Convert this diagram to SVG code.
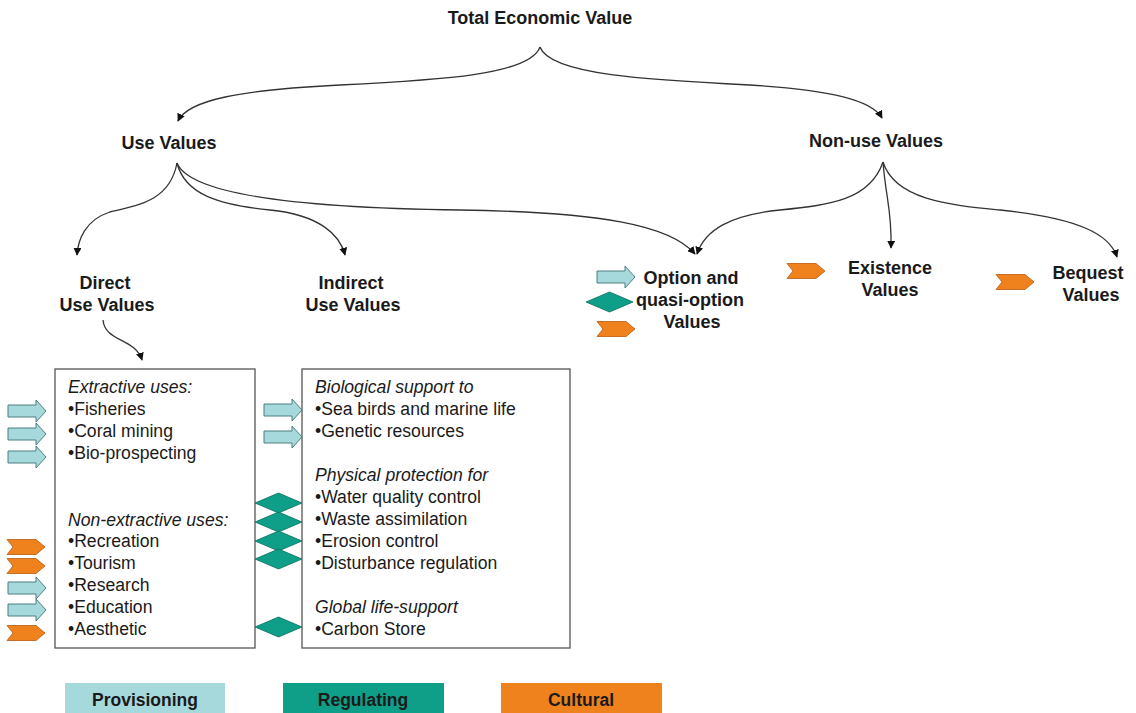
<svg xmlns="http://www.w3.org/2000/svg" xmlns:xlink="http://www.w3.org/1999/xlink" width="1136" height="713" viewBox="0 0 1136 713">
<style>
  .h{font-family:"Liberation Sans",Arial,sans-serif;font-weight:bold;font-size:18px;fill:#1a1a1a;text-anchor:middle}
  .t{font-family:"Liberation Sans",Arial,sans-serif;font-size:17.6px;fill:#1a1a1a}
  .i{font-style:italic}
  .box{fill:#fff;stroke:#555;stroke-width:1.3}
  .conn{fill:none;stroke:#333;stroke-width:1.3;marker-end:url(#ah)}
  .lg{font-family:"Liberation Sans",Arial,sans-serif;font-weight:bold;font-size:17.5px;fill:#1a1a1a;text-anchor:middle}
</style>
<defs>
  <marker id="ah" viewBox="0 0 10 10" refX="9" refY="5" markerWidth="8" markerHeight="8" markerUnits="userSpaceOnUse" orient="auto">
    <path d="M0,0 L10,5 L0,10 Z" fill="#111"/>
  </marker>
  <path id="prov" d="M0,-6 L28,-6 L28,-11 L38,0 L28,11 L28,6 L0,6 Z" fill="#a6d9dc" stroke="#4d7f80" stroke-width="1"/>
  <path id="cult" d="M0,-7.5 L29,-7.5 L38,0 L29,7.5 L0,7.5 L6,0 Z" fill="#f0821e" stroke="#b85a10" stroke-width="0.8"/>
  <path id="reg" d="M0,0 L23.5,-10 L47,0 L23.5,10 Z" fill="#0f9e88" stroke="#0a6f60" stroke-width="0.8"/>
</defs>

<g id="connectors">
  <path class="conn" d="M540,47 C530,75 440,80 340,85 C240,90 188,100 178,121"/>
  <path class="conn" d="M540,47 C550,75 650,80 750,85 C830,90 872,100 882,118"/>
  <path class="conn" d="M177,163 C170,200 140,205 110,212 C85,220 78,240 77,255"/>
  <path class="conn" d="M177,163 C185,195 220,205 270,210 C320,215 340,235 345,255"/>
  <path class="conn" d="M177,163 C190,195 300,208 460,210 C600,212 670,225 695,254"/>
  <path class="conn" d="M883,162 C870,200 830,205 780,210 C730,215 705,230 697,254"/>
  <path class="conn" d="M883,162 C886,200 892,210 891,248"/>
  <path class="conn" d="M883,162 C895,200 950,205 1000,210 C1080,218 1110,235 1117,257"/>
  <path class="conn" d="M103,320 C105,342 135,338 142,360"/>
</g>

<g id="tev"><text class="h" x="540" y="24">Total Economic Value</text></g>
<g id="use"><text class="h" x="169" y="149">Use Values</text></g>
<g id="nonuse"><text class="h" x="876" y="147">Non-use Values</text></g>
<g id="direct"><text class="h" x="105" y="289">Direct</text><text class="h" x="107" y="311">Use Values</text></g>
<g id="indirect"><text class="h" x="351" y="289">Indirect</text><text class="h" x="353" y="311">Use Values</text></g>
<g id="option">
  <text class="h" x="691" y="284">Option and</text>
  <text class="h" x="690" y="306">quasi-option</text>
  <text class="h" x="692" y="328">Values</text>
  <use xlink:href="#prov" x="597" y="277"/>
  <use xlink:href="#reg" x="586" y="302"/>
  <use xlink:href="#cult" x="597" y="329"/>
</g>
<g id="existence">
  <text class="h" x="890" y="274">Existence</text>
  <text class="h" x="890" y="296">Values</text>
  <use xlink:href="#cult" x="787" y="271"/>
</g>
<g id="bequest">
  <text class="h" x="1088" y="279">Bequest</text>
  <text class="h" x="1091" y="301">Values</text>
  <use xlink:href="#cult" x="996" y="282"/>
</g>

<g id="direct-box">
  <rect class="box" x="55" y="369" width="200" height="279"/>
  <text class="t i" x="68" y="393">Extractive uses:</text>
  <text class="t" x="68" y="415">•Fisheries</text>
  <text class="t" x="68" y="437">•Coral mining</text>
  <text class="t" x="68" y="459">•Bio-prospecting</text>
  <text class="t i" x="68" y="526">Non-extractive uses:</text>
  <text class="t" x="68" y="547">•Recreation</text>
  <text class="t" x="68" y="569">•Tourism</text>
  <text class="t" x="68" y="591">•Research</text>
  <text class="t" x="68" y="613">•Education</text>
  <text class="t" x="68" y="635">•Aesthetic</text>
  <use xlink:href="#prov" x="8" y="411"/>
  <use xlink:href="#prov" x="8" y="434"/>
  <use xlink:href="#prov" x="8" y="457"/>
  <use xlink:href="#cult" x="7" y="547"/>
  <use xlink:href="#cult" x="7" y="566"/>
  <use xlink:href="#prov" x="8" y="588"/>
  <use xlink:href="#prov" x="8" y="610"/>
  <use xlink:href="#cult" x="7" y="633"/>
</g>

<g id="indirect-box">
  <rect class="box" x="302" y="369" width="268" height="279"/>
  <text class="t i" x="315" y="393">Biological support to</text>
  <text class="t" x="315" y="415">•Sea birds and marine life</text>
  <text class="t" x="315" y="437">•Genetic resources</text>
  <text class="t i" x="315" y="481">Physical protection for</text>
  <text class="t" x="315" y="503">•Water quality control</text>
  <text class="t" x="315" y="525">•Waste assimilation</text>
  <text class="t" x="315" y="547">•Erosion control</text>
  <text class="t" x="315" y="569">•Disturbance regulation</text>
  <text class="t i" x="315" y="613">Global life-support</text>
  <text class="t" x="315" y="635">•Carbon Store</text>
  <use xlink:href="#prov" x="264" y="410"/>
  <use xlink:href="#prov" x="264" y="437"/>
  <use xlink:href="#reg" x="255" y="503"/>
  <use xlink:href="#reg" x="255" y="522"/>
  <use xlink:href="#reg" x="255" y="541"/>
  <use xlink:href="#reg" x="255" y="559"/>
  <use xlink:href="#reg" x="255" y="627"/>
</g>

<g id="legend">
  <rect x="65" y="683" width="160" height="32" fill="#a6d9dc"/>
  <text class="lg" x="145" y="706">Provisioning</text>
  <rect x="283" y="683" width="161" height="32" fill="#0f9e88"/>
  <text class="lg" x="363" y="706">Regulating</text>
  <rect x="501" y="683" width="161" height="32" fill="#f0821e"/>
  <text class="lg" x="581" y="706">Cultural</text>
</g>
</svg>
